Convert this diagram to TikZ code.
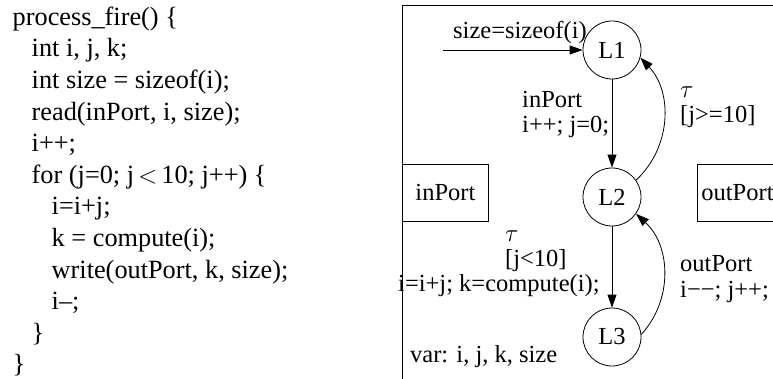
\documentclass[tikz,border=0pt]{standalone}
\usepackage{fontspec}
\setmainfont{Liberation Serif}
\usetikzlibrary{arrows.meta,positioning}
\tikzset{>={Triangle[length=13pt,width=9pt]}}
\tikzset{
  loc/.style={circle, draw, line width=0.8pt, minimum size=58pt, inner sep=0pt},
  port/.style={draw, line width=0.8pt, minimum height=57pt, inner sep=6pt},
  lbl/.style={anchor=base west, align=left, inner sep=0pt},
  arrow/.style={->, line width=0.8pt},
}

\begin{document}
\begin{tikzpicture}[x=1pt, y=1pt, font=\fontsize{24.5}{25}\selectfont]
\clip (0,0) rectangle (773,-379);

% source of the process
\node[anchor=north west, align=left, inner sep=0pt, font=\fontsize{26.3}{31.6}\selectfont] (code) at (12.5,-6.5)
{process\_fire() \{\\
\hspace*{19pt}int i, j, k;\\
\hspace*{19pt}int size = sizeof(i);\\
\hspace*{19pt}read(inPort, i, size);\\
\hspace*{19pt}i++;\\
\hspace*{19pt}for (j=0; j$\,<\,$10; j++) \{\\
\hspace*{39pt}i=i+j;\\
\hspace*{39pt}k = compute(i);\\
\hspace*{39pt}write(outPort, k, size);\\
\hspace*{39pt}i--;\\
\hspace*{19pt}\}\\
\}};

% process frame
\draw[line width=0.8pt] (402,-420) -- (402,-5) -- (800,-5);

% ports
\node[port, minimum width=86pt, anchor=north west] (inport) at (402,-164) {inPort};
\node[port, anchor=north west, inner sep=4pt] (outport) at (697,-164) {outPort};

% locations
\node[loc] (L1) at (612,-50) {L1};
\node[loc] (L2) at (612,-197) {L2};
\node[loc] (L3) at (612,-337) {L3};

% transitions
\coordinate (init) at (443,-50);
\draw[arrow] (init) -- (L1);
\draw[arrow] (L1) -- (L2);
\draw[arrow] (L2.35) to[bend right=45] (L1.-15);
\draw[arrow] (L2) -- (L3);
\draw[arrow] (L3.5) to[bend right=45] (L2.-35);

% transition labels (base = last line)
\node[lbl] (initlbl) at (453,-39) {size=sizeof(i)};
\node[lbl] (readlbl) at (522,-133) {inPort\\i++; j=0;};
\node[lbl] (exitlbl) at (680,-123) {$\tau$\\{}[j>=10]};
\node[lbl] (looplbl) at (398,-291) {\hspace*{107pt}$\tau$\\{}\hspace*{107pt}[j<10]\\i=i+j; k=compute(i);};
\node[lbl] (writelbl) at (680,-297) {outPort\\i−−; j++;};
\node[lbl] (varlbl) at (410,-362) {var: i, j, k, size};

\end{tikzpicture}
\end{document}
